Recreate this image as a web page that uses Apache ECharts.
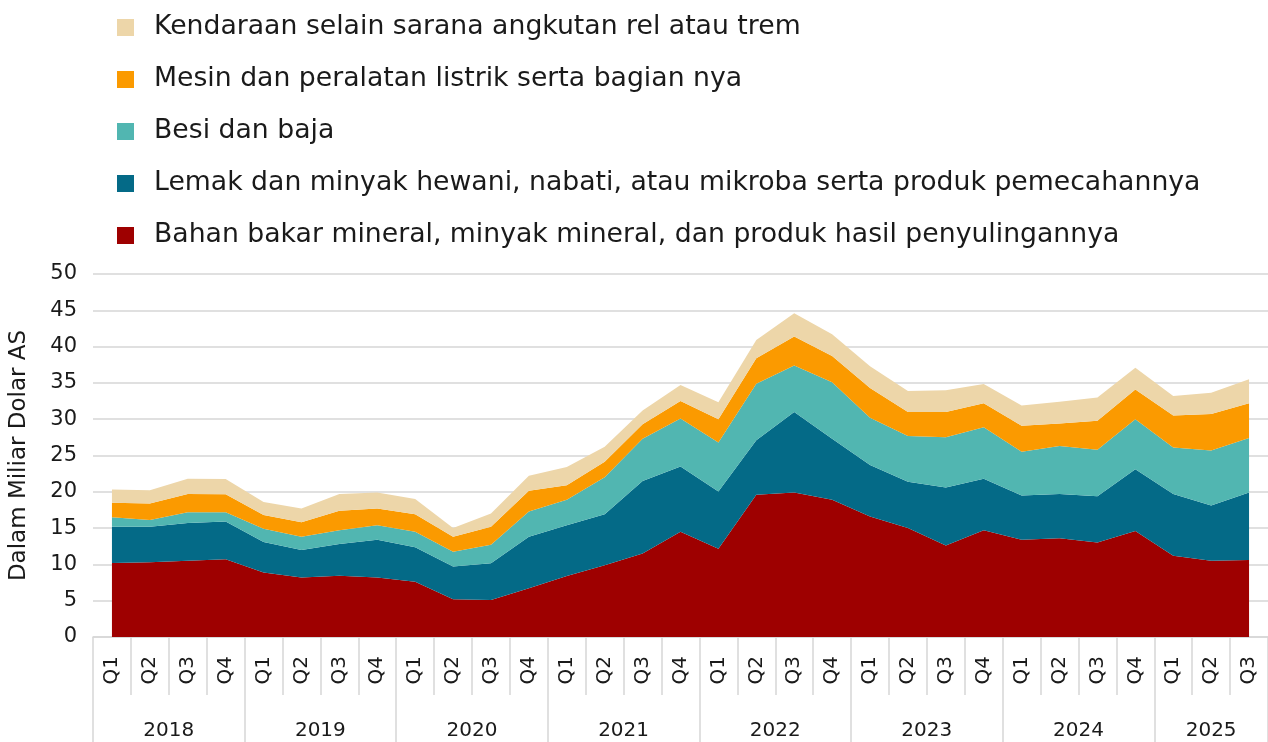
<!DOCTYPE html>
<html>
<head>
<meta charset="utf-8">
<script src="https://cdn.jsdelivr.net/npm/echarts@6/dist/echarts.min.js"></script>
<style>
html,body{margin:0;padding:0;background:#fff;}
#chart{width:1268px;height:742px;}
</style>
</head>
<body>
<div id="chart"></div>
<script>
const quarters = ['Q1','Q2','Q3','Q4','Q1','Q2','Q3','Q4','Q1','Q2','Q3','Q4','Q1','Q2','Q3','Q4','Q1','Q2','Q3','Q4','Q1','Q2','Q3','Q4','Q1','Q2','Q3','Q4','Q1','Q2','Q3'];
const years = ['2018','2018','2018','2018','2019','2019','2019','2019','2020','2020','2020','2020','2021','2021','2021','2021','2022','2022','2022','2022','2023','2023','2023','2023','2024','2024','2024','2024','2025','2025','2025'];

const nameBahan = 'Bahan bakar mineral, minyak mineral, dan produk hasil penyulingannya';
const nameLemak = 'Lemak dan minyak hewani, nabati, atau mikroba serta produk pemecahannya';
const nameBesi = 'Besi dan baja';
const nameMesin = 'Mesin dan peralatan listrik serta bagian nya';
const nameKendaraan = 'Kendaraan selain sarana angkutan rel atau trem';

const bahan = [10.2,10.3,10.5,10.7,8.9,8.2,8.45,8.2,7.6,5.2,5.1,6.7,8.4,9.9,11.5,14.5,12.15,19.6,19.9,18.9,16.6,15.0,12.6,14.7,13.4,13.6,13.0,14.6,11.2,10.5,10.6];
const lemak = [5.0,4.9,5.2,5.2,4.2,3.8,4.35,5.2,4.75,4.5,5.05,7.1,7.0,7.0,10.0,9.0,7.9,7.5,11.1,8.4,7.1,6.4,8.0,7.1,6.1,6.1,6.4,8.5,8.5,7.6,9.3];
const besi = [1.3,0.9,1.5,1.3,1.8,1.8,1.9,2.0,2.15,2.05,2.55,3.5,3.5,5.1,5.8,6.6,6.75,7.8,6.4,7.8,6.5,6.3,6.9,7.1,6.0,6.6,6.4,6.9,6.4,7.6,7.5];
const mesin = [2.0,2.3,2.5,2.45,1.9,2.0,2.7,2.3,2.4,2.05,2.5,2.85,2.0,2.15,2.0,2.4,3.2,3.5,4.0,3.6,4.1,3.3,3.5,3.3,3.6,3.1,4.0,4.1,4.4,5.0,4.8];
const kendaraan = [1.8,1.8,2.1,2.1,1.8,1.9,2.3,2.2,2.1,1.2,1.8,2.05,2.5,2.05,1.9,2.2,2.35,2.5,3.2,3.0,3.0,2.9,3.0,2.65,2.8,3.0,3.2,3.0,2.7,2.95,3.3];

const yTicks = [0,5,10,15,20,25,30,35,40,45,50];

const FONT = 'DejaVu Sans';
const TXT = '#1a1a1a';
const GRIDC = '#d6d6d6';

function area(name, data, color){
  return {
    name: name, type: 'line', stack: 'total', data: data,
    symbol: 'none', smooth: false,
    lineStyle: {width: 0, color: color},
    itemStyle: {color: color},
    areaStyle: {color: color, opacity: 1},
    xAxisIndex: 0, yAxisIndex: 0
  };
}

const chart = echarts.init(document.getElementById('chart'), null, {renderer: 'canvas'});
chart.setOption({
  animation: false,
  backgroundColor: '#ffffff',
  textStyle: {fontFamily: FONT},
  legend: {
    orient: 'vertical', left: 112, top: 9,
    itemWidth: 17, itemHeight: 17, itemGap: 25,
    icon: 'rect',
    textStyle: {fontFamily: FONT, fontSize: 26.7, color: TXT, padding: [0,0,0,15]},
    data: [nameKendaraan, nameMesin, nameBesi, nameLemak, nameBahan]
  },
  grid: {left: 93, right: 0, top: 274, bottom: 105, containLabel: false},
  xAxis: [
    {
      type: 'category', data: quarters, boundaryGap: true, position: 'bottom',
      axisLine: {show: true, lineStyle: {color: GRIDC, width: 1.5}},
      axisTick: {show: true, interval: 0, length: 58, lineStyle: {color: GRIDC, width: 1.5}},
      axisLabel: {interval: 0, rotate: 90, margin: 19, fontFamily: FONT, fontSize: 20, color: TXT}
    },
    {
      type: 'category', data: years, boundaryGap: true, position: 'bottom',
      axisLine: {show: false},
      axisTick: {show: true, interval: function(i){ return i % 4 === 0; }, length: 110, lineStyle: {color: GRIDC, width: 1.5}},
      axisLabel: {
        interval: function(i){ return (i < 28 && i % 4 === 2) || i === 29; },
        margin: 84, fontFamily: FONT, fontSize: 20, color: TXT,
        formatter: function(v, i){ return (i === 29) ? '{c|' + v + '}' : '{s|' + v + '}'; },
        rich: {
          s: {fontFamily: FONT, fontSize: 20, color: TXT, padding: [0, 38, 0, 0]},
          c: {fontFamily: FONT, fontSize: 20, color: TXT}
        }
      }
    }
  ],
  yAxis: {
    type: 'value', min: 0, max: 50, interval: 5,
    name: 'Dalam Miliar Dolar AS', nameLocation: 'middle', nameGap: 62, nameRotate: 90,
    nameTextStyle: {fontFamily: FONT, fontSize: 23, color: TXT},
    axisLine: {show: false}, axisTick: {show: false},
    axisLabel: {margin: 16, fontFamily: FONT, fontSize: 21, color: TXT,
      formatter: function(v){ return yTicks.indexOf(v) >= 0 ? String(v) : ''; }},
    splitLine: {show: true, lineStyle: {color: GRIDC, width: 1.5}}
  },
  series: [
    area(nameBahan, bahan, '#9E0000'),
    area(nameLemak, lemak, '#046A87'),
    area(nameBesi, besi, '#51B6B1'),
    area(nameMesin, mesin, '#FB9A00'),
    area(nameKendaraan, kendaraan, '#EDD6A9')
  ]
});
</script>
</body>
</html>
